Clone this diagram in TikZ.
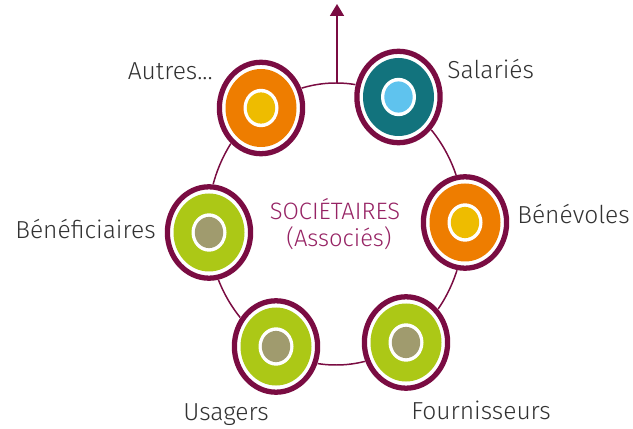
\documentclass[tikz,border=0pt]{standalone}
\usepackage{fontspec}
\setmainfont{Fira Sans Light}
\usetikzlibrary{arrows.meta}

\definecolor{bordeaux}{RGB}{122,12,66}
\definecolor{orangevif}{RGB}{238,125,0}
\definecolor{jaune}{RGB}{238,188,0}
\definecolor{petrole}{RGB}{18,115,125}
\definecolor{ciel}{RGB}{95,195,238}
\definecolor{anis}{RGB}{172,200,22}
\definecolor{kaki}{RGB}{160,155,110}
\definecolor{prune}{RGB}{150,35,100}
\definecolor{gris}{RGB}{50,50,50}

\tikzset{
	lien/.style={draw=bordeaux, line width=0.85pt},
	etiquette/.style={text=gris, font=\fontsize{14}{17}\selectfont, inner sep=0pt},
	centre/.style={text=prune, font=\fontsize{13.5}{16}\selectfont, inner sep=0pt}
}

\begin{document}
\begin{tikzpicture}[x=0.02cm, y=-0.02cm]
	% Frame
	\useasboundingbox (0,0) rectangle (633,429);
	% Centres
	\coordinate (autres) at (261,108);
	\coordinate (salaries) at (398.5,97);
	\coordinate (benevoles) at (465,222.5);
	\coordinate (beneficiaires) at (209,232.5);
	\coordinate (usagers) at (276,346.5);
	\coordinate (fournisseurs) at (406,342.5);
	\coordinate (haut) at (337,83);
	\coordinate (fleche) at (337,4);
	% Circle and arrow
	\draw[lien] (336,224) ellipse [x radius=128, y radius=141];
	\draw[lien, -{Triangle[length=6.8pt, width=8pt]}] (haut) -- (fleche);
	% Rings
	\foreach \c/\a/\b in {autres/orangevif/jaune, salaries/petrole/ciel,
		benevoles/orangevif/jaune, beneficiaires/anis/kaki,
		usagers/anis/kaki, fournisseurs/anis/kaki} {
		\fill[white] (\c) ellipse [x radius=44.5, y radius=48.5];
		\draw[bordeaux, line width=3pt] (\c) ellipse [x radius=41.6, y radius=45.7];
		\fill[\a] (\c) ellipse [x radius=35.5, y radius=39];
		\fill[white] (\c) ellipse [x radius=17.5, y radius=19.2];
		\fill[\b] (\c) ellipse [x radius=14.2, y radius=15.6];
	}
	% Labels
	\node[etiquette, anchor=base east] (lautres) at (213,80) {Autres...};
	\node[etiquette, anchor=base west] (lsalaries) at (447,79) {Salariés};
	\node[etiquette, anchor=base west] (lbenevoles) at (517,224) {Bénévoles};
	\node[etiquette, anchor=base east] (lbeneficiaires) at (156,238) {Bénéficiaires};
	\node[etiquette, anchor=base west] (lusagers) at (183,420) {Usagers};
	\node[etiquette, anchor=base west] (lfournisseurs) at (411,419) {Fournisseurs};
	\node[centre, anchor=base] (societaires) at (335,220) {SOCIÉTAIRES};
	\node[centre, anchor=base] (associes) at (339,247) {(Associés)};
\end{tikzpicture}
\end{document}
